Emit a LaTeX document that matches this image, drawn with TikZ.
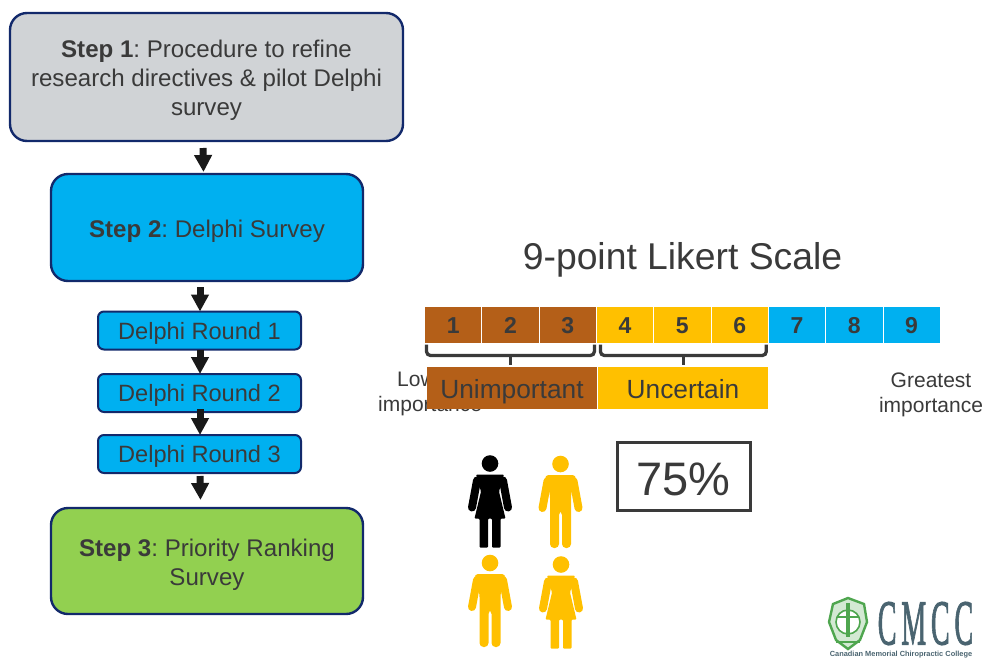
\documentclass[tikz,border=0pt]{standalone}
\usepackage{fontspec}
\setmainfont{Liberation Sans}
\newfontfamily\logofont[FakeBold=2]{Liberation Serif}
\usetikzlibrary{arrows.meta}
\frenchspacing
\definecolor{boxline}{HTML}{12296B}
\definecolor{skyfill}{HTML}{00B0F0}
\definecolor{greyfill}{HTML}{D0D3D6}
\definecolor{greenfill}{HTML}{92D050}
\definecolor{brownfill}{HTML}{B45F18}
\definecolor{goldfill}{HTML}{FFC000}
\definecolor{inktext}{HTML}{3A3A3A}
\definecolor{crestgreen}{HTML}{4FA64F}
\definecolor{logoslate}{HTML}{4A6470}
\newcommand{\fsize}[1]{\fontsize{#1}{1.2\dimexpr#1pt\relax}\selectfont}
\newcommand{\stepstrut}{\rule{0pt}{24.5pt}}
\tikzset{
  stepbox/.style={draw=boxline,line width=2.4pt,rounded corners=17pt,outer sep=0pt,
    align=center,text=inktext,font=\fsize{24.1}},
  roundbox/.style={draw=boxline,fill=skyfill,line width=2pt,rounded corners=6pt,outer sep=0pt,
    minimum width=203pt,minimum height=38pt,inner sep=0pt,text height=17.6pt,text depth=0pt,
    text=inktext,font=\fsize{23.6}},
  flowarrow/.style={draw=black!90,line width=7pt,-{Triangle[length=17pt,width=17pt]}},
  cellbox/.style={draw=white,line width=.8pt,minimum width=57.3pt,minimum height=37pt,inner sep=0pt,
    outer sep=0pt,text height=16pt,text depth=0pt,text=inktext,font=\fsize{23}\bfseries},
  bandbox/.style={minimum width=170pt,minimum height=42pt,inner sep=0pt,outer sep=0pt,
    text height=20pt,text depth=0pt,text=inktext,font=\fsize{26.3}},
  scalebrace/.style={draw=inktext,line width=3.3pt,rounded corners=4pt},
  sidetext/.style={text=inktext,font=\fsize{21},align=center,inner sep=0pt},
  pics/manfig/.style={code={
    \fill[#1] (0,0) circle (8.3);
    \fill[#1,rounded corners=4pt] (-16,11) -- (16,11) -- (10.5,30) -- (10.5,84) -- (1.5,84) -- (1.5,47) -- (-1.5,47)
      -- (-1.5,84) -- (-10.5,84) -- (-10.5,30) -- cycle;
    \draw[#1,line width=8pt,line cap=round] (-13,17) -- (-18,44) (13,17) -- (18,44);
  }},
  pics/womanfig/.style={code={
    \fill[#1] (0,0) circle (8.3);
    \fill[#1,rounded corners=1pt] (-14,11) -- (14,11) -- (9,28) -- (15.5,55) -- (10.5,55) -- (10.5,84) -- (2,84)
      -- (2,55) -- (-2,55) -- (-2,84) -- (-10.5,84) -- (-10.5,55) -- (-15.5,55) -- (-9,28) -- cycle;
    \draw[#1,line width=8pt,line cap=round] (-13,17) -- (-18,44) (13,17) -- (18,44);
  }},
}
\begin{document}
\begin{tikzpicture}[x=1pt,y=-1pt]
  \useasboundingbox (0,0) rectangle (990,659);

  % flow on the left
  \node[stepbox,fill=greyfill,minimum width=393pt,minimum height=128pt] (stepone) at (206.5,77)
    {\stepstrut\textbf{Step 1}: Procedure to refine\\research directives \& pilot Delphi\\survey};
  \node[stepbox,fill=skyfill,minimum width=312pt,minimum height=107pt] (steptwo) at (207,227.5)
    {\stepstrut\textbf{Step 2}: Delphi Survey};
  \node[roundbox] (roundone) at (199.5,330.5) {Delphi Round 1};
  \node[roundbox] (roundtwo) at (199.5,393) {Delphi Round 2};
  \node[roundbox] (roundthree) at (199.5,454) {Delphi Round 3};
  \node[stepbox,fill=greenfill,minimum width=312pt,minimum height=106pt] (stepthree) at (207,561)
    {\stepstrut\textbf{Step 3}: Priority Ranking\\Survey};

  \draw[flowarrow] ([xshift=-3.5pt,yshift=-7pt]stepone.south) -- ([xshift=-3.5pt,yshift=2pt]steptwo.north);
  \draw[flowarrow] ([xshift=-7pt,yshift=-6pt]steptwo.south) -- ([xshift=.5pt]roundone.north);
  \draw[flowarrow] ([xshift=.5pt]roundone.south) -- ([xshift=.5pt]roundtwo.north);
  \draw[flowarrow] ([xshift=.5pt,yshift=3pt]roundtwo.south) -- ([xshift=.5pt]roundthree.north);
  \draw[flowarrow] ([xshift=.5pt,yshift=-3pt]roundthree.south) -- ([xshift=-6.5pt,yshift=8pt]stepthree.north);

  % scale
  \node[text=inktext,font=\fsize{37.3},inner sep=0pt] (scaletitle) at (682.5,260) {9-point Likert Scale};
  \foreach \n/\c in {1/brownfill,2/brownfill,3/brownfill,4/goldfill,5/goldfill,6/goldfill,7/skyfill,8/skyfill,9/skyfill}
    \node[cellbox,fill=\c] (cell\n) at ({424.5+57.3*(\n-.5)},325) {\n};

  \draw[scalebrace] ([xshift=2pt,yshift=-1pt]cell1.south west) -- ++(0,11) -- ([xshift=-2pt,yshift=-12pt]cell3.south east) -- ++(0,-11);
  \draw[scalebrace] ([yshift=-12pt]cell2.south) -- ++(0,9);
  \draw[scalebrace] ([xshift=4pt,yshift=-1pt]cell4.south west) -- ++(0,11) -- ([xshift=-2pt,yshift=-12pt]cell6.south east) -- ++(0,-11);
  \draw[scalebrace] ([xshift=1pt,yshift=-12pt]cell5.south) -- ++(0,9);

  \node[sidetext,align=left,anchor=west] (lowtext) at (378,394) {\hspace*{19pt}Low\\importance};
  \node[sidetext] (hightext) at (931,395) {Greatest\\importance};
  \node[bandbox,fill=brownfill] (unimportant) at (512,388) {Unimportant};
  \node[bandbox,fill=goldfill] (uncertain) at (683,388) {Uncertain};

  % people and share
  \node[draw=inktext,line width=3pt,minimum width=133pt,minimum height=68pt,inner sep=0pt,
    text height=38pt,text depth=0pt,text=inktext,font=\fsize{47}] (share) at (683.5,476) {75\%};
  \pic at (490,463.5) {womanfig=black};
  \pic at (560.5,464) {manfig=goldfill};
  \pic at (490,563) {manfig=goldfill};
  \pic at (561,564.5) {womanfig=goldfill};

  % college logo
  \draw[crestgreen,line width=2.4pt,fill=crestgreen!25] (833,604) -- (848,598) -- (864,604) -- (867,622)
    -- (860,640) -- (848,649) -- (836,640) -- (829,622) -- cycle;
  \draw[crestgreen,line width=1.6pt,fill=white] (848,622) circle (12);
  \draw[crestgreen,line width=3.4pt] (848,603) -- (848,637);
  \draw[crestgreen,line width=1.4pt] (837,617) -- (859,617) (836,642) -- (860,642);
  \node[text=logoslate,font=\logofont\fsize{64},inner sep=0pt] (logoname) at (925.5,623.5)
    {\scalebox{.44}[1]{C\,M\,C\,C}};
  \node[text=logoslate,font=\fsize{7.4}\bfseries,inner sep=0pt] (logocaption) at (901,654.5)
    {Canadian Memorial Chiropractic College};
\end{tikzpicture}
\end{document}
